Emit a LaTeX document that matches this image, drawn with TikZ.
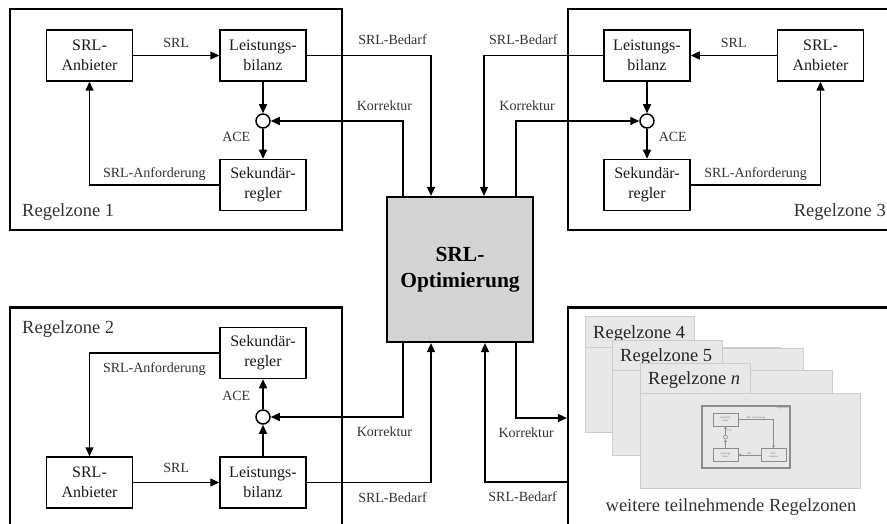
\documentclass[tikz,border=0pt]{standalone}
\usepackage{fontspec}
\setmainfont{Liberation Serif}
\usetikzlibrary{arrows.meta}
\tikzset{
box/.style={draw, line width=1.5pt, minimum width=86pt, minimum height=51pt, inner sep=0pt, align=center, text=black!90, font=\fontsize{16}{20}\selectfont},
zone/.style={draw, line width=2.2pt, inner sep=0pt},
sum/.style={draw, circle, line width=1.5pt, minimum size=14pt, inner sep=0pt, fill=white},
pfeil/.style={line width=1.5pt, -{Triangle[length=9pt,width=8pt]}},
lbl/.style={font=\fontsize{14}{16}\selectfont, text=black!80, inner sep=0pt, text height=10pt, text depth=3pt},
zonelbl/.style={font=\fontsize{18.5}{22}\selectfont, text=black!80, inner sep=0pt},
optbox/.style={draw, line width=2.2pt, fill=black!17, minimum width=146pt, minimum height=145pt, align=center, font=\fontsize{21.5}{26}\selectfont\bfseries},
panel/.style={fill=black!9, draw=black!20, line width=0.8pt},
mbox/.style={draw=black!45, line width=0.6pt, minimum width=25pt, minimum height=13pt, inner sep=0pt, align=center, text=black!55, font=\fontsize{2.6}{3}\selectfont},
mpfeil/.style={draw=black!45, line width=0.6pt, -{Triangle[length=2.5pt,width=2.5pt]}},
mlbl/.style={text=black!55, inner sep=0.6pt, font=\fontsize{2.6}{3}\selectfont}
}
\begin{document}
\begin{tikzpicture}[x=1pt, y=-1pt]
  \path[use as bounding box, clip] (0,0) rectangle (887,524);
  % Regelzonen
  \node[zone, minimum width=332pt, minimum height=221pt] (zone1) at (176,119.5) {};
  \node[zone, minimum width=332pt, minimum height=221pt] (zone2) at (176,418) {};
  \node[zone, minimum width=332pt, minimum height=221pt] (zone3) at (734,119.5) {};
  \node[zone, minimum width=332pt, minimum height=221pt] (zone4) at (734,418) {};
  \node[zonelbl, anchor=base west] (lz1) at (22,217) {Regelzone 1};
  \node[zonelbl, anchor=base west] (lz2) at (22,333) {Regelzone 2};
  \node[zonelbl, anchor=base east] (lz3) at (886,217) {Regelzone 3};
  \node[zonelbl, anchor=base] (lzw) at (731,511) {weitere teilnehmende Regelzonen};
  \node[optbox] (opt) at (460,269.5) {SRL-\\Optimierung};

  % Regelzone 1
  \node[box] (anb1) at (89.5,55.5) {SRL-\\Anbieter};
  \node[box] (bil1) at (263,55.5) {Leistungs-\\bilanz};
  \node[sum] (sum1) at (263,121) {};
  \node[box] (sek1) at (263,185) {Sekundär-\\regler};
  \draw[pfeil] (anb1) -- (bil1) node[lbl, midway, above=4pt] {SRL};
  \draw[pfeil] (bil1) -- (sum1);
  \draw[pfeil] (sum1) -- (sek1) node[lbl, pos=0.3, left=12pt] {ACE};
  \draw[pfeil] (sek1.west) -| (anb1.south) node[lbl, pos=0.25, above=4pt] {SRL-Anforderung};

  % Regelzone 3
  \node[box] (anb3) at (820.5,55.5) {SRL-\\Anbieter};
  \node[box] (bil3) at (647,55.5) {Leistungs-\\bilanz};
  \node[sum] (sum3) at (647,121) {};
  \node[box] (sek3) at (647,185) {Sekundär-\\regler};
  \draw[pfeil] (anb3) -- (bil3) node[lbl, midway, above=4pt] {SRL};
  \draw[pfeil] (bil3) -- (sum3);
  \draw[pfeil] (sum3) -- (sek3) node[lbl, pos=0.3, right=11pt] {ACE};
  \draw[pfeil] (sek3.east) -| (anb3.south) node[lbl, pos=0.25, above=4pt] {SRL-Anforderung};

  % Regelzone 2
  \node[box] (anb2) at (89.5,482.5) {SRL-\\Anbieter};
  \node[box] (bil2) at (263,482.5) {Leistungs-\\bilanz};
  \node[sum] (sum2) at (263,417) {};
  \node[box] (sek2) at (263,353) {Sekundär-\\regler};
  \draw[pfeil] (anb2) -- (bil2) node[lbl, midway, above=6pt] {SRL};
  \draw[pfeil] (bil2) -- (sum2);
  \draw[pfeil] (sum2) -- (sek2) node[lbl, pos=0.4, left=12pt] {ACE};
  \draw[pfeil] (sek2.west) -| (anb2.north) node[lbl, pos=0.25, below=9pt] {SRL-Anforderung};

  % Verbindungen zur Optimierung
  \draw[pfeil] (bil1.east) -| ([xshift=-29pt]opt.north) node[lbl, pos=0.345, above=7.5pt] {SRL-Bedarf};
  \draw[pfeil] ([xshift=-57pt]opt.north) |- (sum1.east) node[lbl, pos=0.57, above=7pt] {Korrektur};
  \draw[pfeil] (bil3.west) -| ([xshift=24pt]opt.north) node[lbl, pos=0.335, above=7.5pt] {SRL-Bedarf};
  \draw[pfeil] ([xshift=56pt]opt.north) |- (sum3.west) node[lbl, pos=0.545, above=7pt] {Korrektur};
  \draw[pfeil] (bil2.east) -| ([xshift=-29pt]opt.south) node[lbl, pos=0.345, below=9pt] {SRL-Bedarf};
  \draw[pfeil] ([xshift=-57pt]opt.south) |- (sum2.east) node[lbl, pos=0.57, below=9pt] {Korrektur};
  \draw[pfeil] ([yshift=-64pt]zone4.west) -| ([xshift=25pt]opt.south) node[lbl, pos=0.27, below=9pt] {SRL-Bedarf};
  \draw[pfeil] ([xshift=56pt]opt.south) |- (zone4.west) node[lbl, pos=0.6, below=9pt] {Korrektur};

  % weitere Regelzonen
  \foreach \l/\tt/\st/\hb/\tr/\sr/\br/\bb/\id/\name in {585/316/347/347/694/780/780/432/4/4, 612/340/348/370/722/803/831/455/5/5, 640/363/370/393/750/832/860/488/n/\textit{n}} {
    \draw[panel] (\l,\hb) rectangle (\br,\bb);
    \draw[panel] (\tr,\st) rectangle (\sr,\hb);
    \draw[panel] (\l,\tt) rectangle (\tr,\hb);
    \node[zonelbl, text=black!85, anchor=base west] (tab\id) at (\l+8,\hb-9) {Regelzone \name};
  }
  \node[draw=black!45, line width=1.2pt, minimum width=88pt, minimum height=62pt] (mini) at (746,437) {};
  \node[mlbl, anchor=north east] (minilbl) at (mini.north east) {Regelzone \textit{n}};
  \node[mbox] (msek) at (725.5,419.5) {Sekundär-\\regler};
  \node[mbox] (mbil) at (725.5,455) {Leistungs-\\bilanz};
  \node[mbox] (manb) at (773.5,455) {SRL-\\Anbieter};
  \node[draw=black!45, circle, line width=0.6pt, minimum size=4pt, inner sep=0pt] (msum) at (725.5,437) {};
  \draw[mpfeil] (msek.east) -| (manb.north) node[mlbl, pos=0.25, above] {SRL-Anforderung};
  \draw[mpfeil] (manb.west) -- (mbil.east) node[mlbl, midway, above] {SRL};
  \draw[mpfeil] (mbil.north) -- (msum.south);
  \draw[mpfeil] (msum.north) -- (msek.south) node[mlbl, midway, right] {ACE};
\end{tikzpicture}
\end{document}
